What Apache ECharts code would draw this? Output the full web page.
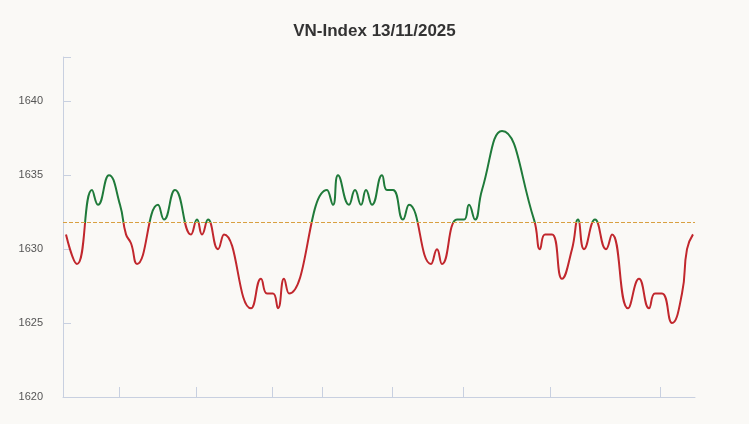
<!DOCTYPE html>
<html>
<head>
<meta charset="utf-8">
<script src="https://cdn.jsdelivr.net/npm/echarts@6/dist/echarts.min.js"></script>
<style>html,body{margin:0;background:#faf9f6}#chart{width:749px;height:424px}</style>
</head>
<body>
<div id="chart"></div>
<script>
let chart = echarts.init(document.getElementById('chart'));

// time index (session position) and index value
let t = [66,77,92,98,109,120,126,131,137,158,164,175,191,197,202,208,218,224,251,261,267,273,278,284,289,327,333,338,349,355,361,366,372,382,387,393,403,409,431,437,442,457,464,469,475,482,502,534,540,545,552,562,572,578,584,595,606,612,628,639,649,655,662,672,682,687,693];
let vals = [1631,1629,1634,1633,1635,1633,1631,1630.4,1629,1633,1632,1634,1631,1632,1631,1632,1630,1631,1626,1628,1627,1627,1626,1628,1627,1634,1633,1635,1633,1634,1633,1634,1633,1635,1634,1634,1632,1633,1629,1630,1629,1632,1632,1633,1632,1634,1638,1632,1630,1631,1631,1628,1630,1632,1630,1632,1630,1631,1626,1628,1626,1627,1627,1625,1627,1630,1631];
let refLevel = 1631.8;
let xTicks = [119,196,272,322,392,463,550,660];

let data = t.map(function(v, i){ return [v, vals[i]]; });

let option = {
    backgroundColor: '#faf9f6',
    title: {
        text: 'VN-Index 13/11/2025',
        left: 'center',
        top: 18,
        textStyle: { fontSize: 17, fontWeight: 'bold', color: '#333', fontFamily: 'Arial' }
    },
    grid: { left: 63, right: 54, top: 57, bottom: 27 },
    xAxis: {
        type: 'value',
        min: 63,
        max: 695,
        splitLine: { show: false },
        axisLine: { lineStyle: { color: '#c8d0e0' } },
        axisLabel: { show: false },
        axisTick: { inside: true, length: 10, customValues: xTicks, lineStyle: { color: '#c8d0e0' } }
    },
    yAxis: {
        type: 'value',
        min: 1620,
        max: 1643,
        interval: 5,
        splitLine: { show: false },
        axisLine: { show: true, lineStyle: { color: '#c8d0e0' } },
        axisTick: { show: true, inside: true, length: 8, lineStyle: { color: '#c8d0e0' } },
        axisLabel: {
            color: '#555', fontSize: 11, margin: 20,
            formatter: function(v){ return v % 5 === 0 ? v : ''; }
        }
    },
    series: [{
        type: 'line',
        data: data,
        smooth: 0.5,
        symbol: 'none',
        lineStyle: { width: 2, color: '#c1272d' },
        markLine: {
            silent: true,
            symbol: 'none',
            label: { show: false },
            lineStyle: { color: '#d9a040', type: 'dashed', width: 1 },
            data: [{ yAxis: refLevel }]
        }
    }]
};

chart.setOption(option);

// green above the reference level, red below
let yTop = chart.convertToPixel({ yAxisIndex: 0 }, 1643);
let yBot = chart.convertToPixel({ yAxisIndex: 0 }, 1620);
let yRef = chart.convertToPixel({ yAxisIndex: 0 }, refLevel);
let f = (yRef - yTop) / (yBot - yTop);
chart.setOption({
    series: [{
        lineStyle: {
            color: {
                type: 'linear', global: true, x: 0, y: yTop, x2: 0, y2: yBot,
                colorStops: [
                    { offset: 0, color: '#1f7a3a' },
                    { offset: f, color: '#1f7a3a' },
                    { offset: f, color: '#c1272d' },
                    { offset: 1, color: '#c1272d' }
                ]
            }
        }
    }]
});
</script>
</body>
</html>
